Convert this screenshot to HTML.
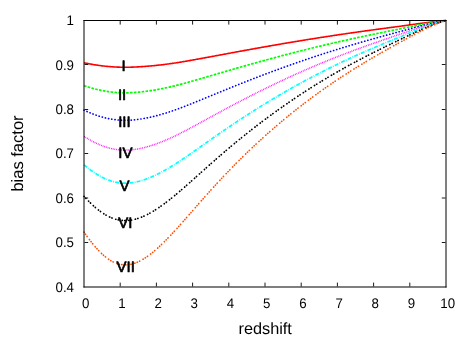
<!DOCTYPE html><html><head><meta charset="utf-8"><style>
html,body{margin:0;padding:0;background:#fff;overflow:hidden}svg{display:block;will-change:transform}text{font-family:"Liberation Sans",sans-serif;fill:#000;text-rendering:geometricPrecision}
</style></head><body>
<svg width="474" height="337" viewBox="0 0 474 337">
<rect width="474" height="337" fill="#fff"/>
<polyline points="84.00,62.81 85.01,63.01 86.01,63.22 87.02,63.41 88.02,63.61 89.03,63.80 90.03,63.98 91.04,64.16 92.04,64.34 93.05,64.51 94.06,64.68 95.06,64.84 96.07,65.00 97.07,65.15 98.08,65.30 99.08,65.44 100.09,65.58 101.09,65.71 102.10,65.84 103.11,65.96 104.11,66.08 105.12,66.19 106.12,66.29 107.13,66.39 108.13,66.48 109.14,66.57 110.14,66.65 111.15,66.73 112.16,66.80 113.16,66.87 114.17,66.93 115.17,66.99 116.18,67.04 117.18,67.08 118.19,67.12 119.19,67.15 120.20,67.18 121.21,67.20 122.21,67.22 123.22,67.23 124.22,67.24 125.23,67.25 126.23,67.24 127.24,67.24 128.24,67.22 129.25,67.21 130.26,67.18 131.26,67.16 132.27,67.13 133.27,67.09 134.28,67.05 135.28,67.01 136.29,66.96 137.29,66.91 138.30,66.85 139.31,66.80 140.31,66.74 141.32,66.67 142.32,66.61 143.33,66.54 144.33,66.47 145.34,66.39 146.34,66.31 147.35,66.23 148.36,66.15 149.36,66.06 150.37,65.98 151.37,65.88 152.38,65.79 153.38,65.69 154.39,65.59 155.39,65.49 156.40,65.39 157.41,65.28 158.41,65.17 159.42,65.06 160.42,64.94 161.43,64.83 162.43,64.71 163.44,64.59 164.44,64.46 165.45,64.33 166.46,64.20 167.46,64.07 168.47,63.94 169.47,63.80 170.48,63.66 171.48,63.52 172.49,63.38 173.49,63.23 174.50,63.08 175.51,62.93 176.51,62.78 177.52,62.62 178.52,62.46 179.53,62.30 180.53,62.14 181.54,61.98 182.54,61.81 183.55,61.64 184.56,61.47 185.56,61.29 186.57,61.12 187.57,60.94 188.58,60.77 189.58,60.59 190.59,60.41 191.59,60.23 192.60,60.05 193.61,59.87 194.61,59.69 195.62,59.51 196.62,59.33 197.63,59.14 198.63,58.96 199.64,58.78 200.64,58.59 201.65,58.41 202.66,58.22 203.66,58.04 204.67,57.85 205.67,57.66 206.68,57.48 207.68,57.29 208.69,57.10 209.69,56.92 210.70,56.73 211.71,56.54 212.71,56.36 213.72,56.17 214.72,55.98 215.73,55.79 216.73,55.61 217.74,55.42 218.74,55.23 219.75,55.04 220.76,54.86 221.76,54.67 222.77,54.48 223.77,54.30 224.78,54.11 225.78,53.92 226.79,53.73 227.79,53.55 228.80,53.36 229.81,53.18 230.81,52.99 231.82,52.80 232.82,52.62 233.83,52.43 234.83,52.25 235.84,52.06 236.84,51.88 237.85,51.69 238.86,51.51 239.86,51.32 240.87,51.14 241.87,50.95 242.88,50.77 243.88,50.59 244.89,50.40 245.89,50.22 246.90,50.04 247.91,49.85 248.91,49.67 249.92,49.49 250.92,49.31 251.93,49.13 252.93,48.95 253.94,48.77 254.94,48.59 255.95,48.41 256.96,48.23 257.96,48.05 258.97,47.87 259.97,47.69 260.98,47.51 261.98,47.33 262.99,47.15 263.99,46.97 265.00,46.80 266.01,46.62 267.01,46.44 268.02,46.27 269.02,46.09 270.03,45.91 271.03,45.74 272.04,45.56 273.04,45.39 274.05,45.21 275.06,45.04 276.06,44.87 277.07,44.69 278.07,44.52 279.08,44.35 280.08,44.17 281.09,44.00 282.09,43.83 283.10,43.66 284.11,43.49 285.11,43.32 286.12,43.14 287.12,42.97 288.13,42.80 289.13,42.63 290.14,42.47 291.14,42.30 292.15,42.13 293.16,41.96 294.16,41.79 295.17,41.62 296.17,41.46 297.18,41.29 298.18,41.13 299.19,40.96 300.19,40.79 301.20,40.63 302.21,40.46 303.21,40.30 304.22,40.14 305.22,39.97 306.23,39.81 307.23,39.65 308.24,39.48 309.24,39.32 310.25,39.16 311.26,39.00 312.26,38.84 313.27,38.68 314.27,38.52 315.28,38.36 316.28,38.20 317.29,38.04 318.29,37.88 319.30,37.72 320.31,37.57 321.31,37.41 322.32,37.25 323.32,37.10 324.33,36.94 325.33,36.79 326.34,36.63 327.34,36.48 328.35,36.32 329.36,36.17 330.36,36.02 331.37,35.86 332.37,35.71 333.38,35.56 334.38,35.41 335.39,35.26 336.39,35.11 337.40,34.96 338.41,34.81 339.41,34.66 340.42,34.51 341.42,34.36 342.43,34.21 343.43,34.06 344.44,33.92 345.44,33.77 346.45,33.62 347.46,33.48 348.46,33.33 349.47,33.19 350.47,33.04 351.48,32.90 352.48,32.75 353.49,32.61 354.49,32.47 355.50,32.32 356.51,32.18 357.51,32.04 358.52,31.90 359.52,31.75 360.53,31.61 361.53,31.47 362.54,31.33 363.54,31.19 364.55,31.05 365.56,30.91 366.56,30.77 367.57,30.63 368.57,30.50 369.58,30.36 370.58,30.22 371.59,30.08 372.59,29.94 373.60,29.81 374.61,29.67 375.61,29.53 376.62,29.39 377.62,29.26 378.63,29.12 379.63,28.99 380.64,28.85 381.64,28.71 382.65,28.58 383.66,28.44 384.66,28.31 385.67,28.17 386.67,28.04 387.68,27.90 388.68,27.77 389.69,27.64 390.69,27.50 391.70,27.37 392.71,27.23 393.71,27.10 394.72,26.97 395.72,26.83 396.73,26.70 397.73,26.57 398.74,26.44 399.74,26.30 400.75,26.17 401.76,26.03 402.76,25.89 403.77,25.74 404.77,25.60 405.78,25.46 406.78,25.31 407.79,25.17 408.79,25.03 409.80,24.89 410.81,24.75 411.81,24.60 412.82,24.46 413.82,24.32 414.83,24.18 415.83,24.05 416.84,23.91 417.84,23.77 418.85,23.63 419.86,23.50 420.86,23.36 421.87,23.23 422.87,23.09 423.88,22.96 424.88,22.83 425.89,22.70 426.89,22.57 427.90,22.44 428.91,22.32 429.91,22.19 430.92,22.07 431.92,21.95 432.93,21.83 433.93,21.71 434.94,21.60 435.94,21.48 436.95,21.37 437.96,21.26 438.96,21.16 439.97,21.05 440.97,20.95 441.98,20.86 442.98,20.76 443.99,20.67 444.99,20.58 446.00,20.50" fill="none" stroke="#ff0000" stroke-width="1.6"/>
<polyline points="84.00,85.73 85.01,86.06 86.01,86.38 87.02,86.69 88.02,87.00 89.03,87.31 90.03,87.60 91.04,87.89 92.04,88.17 93.05,88.45 94.06,88.71 95.06,88.97 96.07,89.22 97.07,89.47 98.08,89.70 99.08,89.93 100.09,90.15 101.09,90.36 102.10,90.56 103.11,90.76 104.11,90.94 105.12,91.12 106.12,91.29 107.13,91.44 108.13,91.59 109.14,91.74 110.14,91.87 111.15,91.99 112.16,92.11 113.16,92.21 114.17,92.31 115.17,92.40 116.18,92.48 117.18,92.55 118.19,92.61 119.19,92.67 120.20,92.71 121.21,92.75 122.21,92.78 123.22,92.80 124.22,92.81 125.23,92.82 126.23,92.81 127.24,92.80 128.24,92.78 129.25,92.75 130.26,92.72 131.26,92.68 132.27,92.63 133.27,92.57 134.28,92.50 135.28,92.43 136.29,92.35 137.29,92.27 138.30,92.18 139.31,92.09 140.31,91.99 141.32,91.88 142.32,91.77 143.33,91.66 144.33,91.54 145.34,91.41 146.34,91.28 147.35,91.14 148.36,91.00 149.36,90.86 150.37,90.71 151.37,90.55 152.38,90.40 153.38,90.23 154.39,90.06 155.39,89.89 156.40,89.72 157.41,89.53 158.41,89.35 159.42,89.16 160.42,88.97 161.43,88.77 162.43,88.57 163.44,88.36 164.44,88.16 165.45,87.94 166.46,87.73 167.46,87.51 168.47,87.29 169.47,87.06 170.48,86.83 171.48,86.60 172.49,86.36 173.49,86.12 174.50,85.88 175.51,85.63 176.51,85.38 177.52,85.13 178.52,84.88 179.53,84.62 180.53,84.36 181.54,84.09 182.54,83.82 183.55,83.55 184.56,83.28 185.56,83.00 186.57,82.73 187.57,82.45 188.58,82.17 189.58,81.89 190.59,81.60 191.59,81.32 192.60,81.04 193.61,80.75 194.61,80.46 195.62,80.18 196.62,79.89 197.63,79.60 198.63,79.31 199.64,79.02 200.64,78.73 201.65,78.44 202.66,78.14 203.66,77.85 204.67,77.56 205.67,77.27 206.68,76.97 207.68,76.68 208.69,76.38 209.69,76.09 210.70,75.80 211.71,75.50 212.71,75.21 213.72,74.91 214.72,74.62 215.73,74.32 216.73,74.03 217.74,73.73 218.74,73.44 219.75,73.15 220.76,72.85 221.76,72.56 222.77,72.26 223.77,71.97 224.78,71.68 225.78,71.39 226.79,71.09 227.79,70.80 228.80,70.51 229.81,70.22 230.81,69.93 231.82,69.63 232.82,69.34 233.83,69.05 234.83,68.76 235.84,68.47 236.84,68.18 237.85,67.90 238.86,67.61 239.86,67.32 240.87,67.03 241.87,66.75 242.88,66.46 243.88,66.17 244.89,65.89 245.89,65.60 246.90,65.32 247.91,65.03 248.91,64.75 249.92,64.47 250.92,64.18 251.93,63.90 252.93,63.62 253.94,63.34 254.94,63.06 255.95,62.78 256.96,62.50 257.96,62.22 258.97,61.94 259.97,61.67 260.98,61.39 261.98,61.11 262.99,60.83 263.99,60.56 265.00,60.28 266.01,60.01 267.01,59.74 268.02,59.46 269.02,59.19 270.03,58.92 271.03,58.65 272.04,58.37 273.04,58.10 274.05,57.83 275.06,57.56 276.06,57.29 277.07,57.03 278.07,56.76 279.08,56.49 280.08,56.22 281.09,55.96 282.09,55.69 283.10,55.43 284.11,55.16 285.11,54.90 286.12,54.64 287.12,54.37 288.13,54.11 289.13,53.85 290.14,53.59 291.14,53.33 292.15,53.07 293.16,52.81 294.16,52.55 295.17,52.30 296.17,52.04 297.18,51.78 298.18,51.53 299.19,51.27 300.19,51.02 301.20,50.76 302.21,50.51 303.21,50.26 304.22,50.01 305.22,49.76 306.23,49.51 307.23,49.26 308.24,49.01 309.24,48.76 310.25,48.51 311.26,48.26 312.26,48.02 313.27,47.77 314.27,47.53 315.28,47.28 316.28,47.04 317.29,46.79 318.29,46.55 319.30,46.31 320.31,46.07 321.31,45.83 322.32,45.59 323.32,45.35 324.33,45.11 325.33,44.87 326.34,44.64 327.34,44.40 328.35,44.17 329.36,43.93 330.36,43.70 331.37,43.46 332.37,43.23 333.38,43.00 334.38,42.77 335.39,42.54 336.39,42.31 337.40,42.08 338.41,41.85 339.41,41.62 340.42,41.40 341.42,41.17 342.43,40.95 343.43,40.72 344.44,40.50 345.44,40.27 346.45,40.05 347.46,39.83 348.46,39.61 349.47,39.38 350.47,39.16 351.48,38.94 352.48,38.73 353.49,38.51 354.49,38.29 355.50,38.07 356.51,37.85 357.51,37.64 358.52,37.42 359.52,37.21 360.53,36.99 361.53,36.78 362.54,36.57 363.54,36.35 364.55,36.14 365.56,35.93 366.56,35.72 367.57,35.51 368.57,35.30 369.58,35.09 370.58,34.88 371.59,34.67 372.59,34.46 373.60,34.25 374.61,34.04 375.61,33.83 376.62,33.63 377.62,33.42 378.63,33.21 379.63,33.01 380.64,32.80 381.64,32.60 382.65,32.39 383.66,32.19 384.66,31.98 385.67,31.78 386.67,31.57 387.68,31.37 388.68,31.17 389.69,30.97 390.69,30.76 391.70,30.56 392.71,30.36 393.71,30.16 394.72,29.96 395.72,29.75 396.73,29.55 397.73,29.35 398.74,29.15 399.74,28.95 400.75,28.75 401.76,28.55 402.76,28.33 403.77,28.12 404.77,27.91 405.78,27.70 406.78,27.50 407.79,27.29 408.79,27.08 409.80,26.87 410.81,26.67 411.81,26.46 412.82,26.25 413.82,26.05 414.83,25.85 415.83,25.64 416.84,25.44 417.84,25.24 418.85,25.04 419.86,24.84 420.86,24.65 421.87,24.45 422.87,24.26 423.88,24.06 424.88,23.87 425.89,23.68 426.89,23.49 427.90,23.31 428.91,23.13 429.91,22.94 430.92,22.77 431.92,22.59 432.93,22.42 433.93,22.25 434.94,22.08 435.94,21.92 436.95,21.75 437.96,21.60 438.96,21.44 439.97,21.30 440.97,21.15 441.98,21.01 442.98,20.87 443.99,20.74 444.99,20.62 446.00,20.50" fill="none" stroke="#00ff00" stroke-width="1.7" stroke-dasharray="2.6 1.3"/>
<polyline points="84.00,110.13 85.01,110.60 86.01,111.06 87.02,111.51 88.02,111.95 89.03,112.38 90.03,112.80 91.04,113.21 92.04,113.62 93.05,114.01 94.06,114.39 95.06,114.76 96.07,115.12 97.07,115.47 98.08,115.81 99.08,116.14 100.09,116.45 101.09,116.75 102.10,117.04 103.11,117.32 104.11,117.59 105.12,117.84 106.12,118.08 107.13,118.31 108.13,118.52 109.14,118.73 110.14,118.92 111.15,119.10 112.16,119.26 113.16,119.41 114.17,119.55 115.17,119.68 116.18,119.80 117.18,119.90 118.19,119.99 119.19,120.07 120.20,120.13 121.21,120.19 122.21,120.23 123.22,120.26 124.22,120.27 125.23,120.28 126.23,120.28 127.24,120.26 128.24,120.23 129.25,120.19 130.26,120.14 131.26,120.08 132.27,120.01 133.27,119.92 134.28,119.83 135.28,119.73 136.29,119.62 137.29,119.50 138.30,119.37 139.31,119.23 140.31,119.08 141.32,118.93 142.32,118.77 143.33,118.60 144.33,118.42 145.34,118.23 146.34,118.04 147.35,117.84 148.36,117.63 149.36,117.42 150.37,117.20 151.37,116.97 152.38,116.74 153.38,116.49 154.39,116.25 155.39,115.99 156.40,115.73 157.41,115.47 158.41,115.20 159.42,114.92 160.42,114.63 161.43,114.35 162.43,114.05 163.44,113.75 164.44,113.45 165.45,113.14 166.46,112.82 167.46,112.50 168.47,112.18 169.47,111.85 170.48,111.51 171.48,111.18 172.49,110.83 173.49,110.49 174.50,110.14 175.51,109.78 176.51,109.42 177.52,109.06 178.52,108.69 179.53,108.32 180.53,107.95 181.54,107.57 182.54,107.19 183.55,106.80 184.56,106.41 185.56,106.02 186.57,105.63 187.57,105.23 188.58,104.84 189.58,104.44 190.59,104.04 191.59,103.64 192.60,103.23 193.61,102.83 194.61,102.42 195.62,102.02 196.62,101.61 197.63,101.20 198.63,100.79 199.64,100.38 200.64,99.97 201.65,99.56 202.66,99.15 203.66,98.74 204.67,98.32 205.67,97.91 206.68,97.50 207.68,97.09 208.69,96.67 209.69,96.26 210.70,95.84 211.71,95.43 212.71,95.02 213.72,94.60 214.72,94.19 215.73,93.78 216.73,93.36 217.74,92.95 218.74,92.54 219.75,92.13 220.76,91.71 221.76,91.30 222.77,90.89 223.77,90.48 224.78,90.07 225.78,89.66 226.79,89.25 227.79,88.84 228.80,88.43 229.81,88.03 230.81,87.62 231.82,87.21 232.82,86.81 233.83,86.40 234.83,86.00 235.84,85.60 236.84,85.19 237.85,84.79 238.86,84.39 239.86,83.99 240.87,83.59 241.87,83.19 242.88,82.79 243.88,82.39 244.89,82.00 245.89,81.60 246.90,81.21 247.91,80.81 248.91,80.42 249.92,80.03 250.92,79.63 251.93,79.24 252.93,78.85 253.94,78.46 254.94,78.07 255.95,77.69 256.96,77.30 257.96,76.91 258.97,76.53 259.97,76.14 260.98,75.76 261.98,75.38 262.99,75.00 263.99,74.62 265.00,74.24 266.01,73.86 267.01,73.48 268.02,73.10 269.02,72.73 270.03,72.35 271.03,71.98 272.04,71.60 273.04,71.23 274.05,70.86 275.06,70.49 276.06,70.11 277.07,69.75 278.07,69.38 279.08,69.01 280.08,68.64 281.09,68.28 282.09,67.91 283.10,67.55 284.11,67.19 285.11,66.82 286.12,66.46 287.12,66.10 288.13,65.74 289.13,65.38 290.14,65.03 291.14,64.67 292.15,64.31 293.16,63.96 294.16,63.61 295.17,63.25 296.17,62.90 297.18,62.55 298.18,62.20 299.19,61.85 300.19,61.50 301.20,61.15 302.21,60.81 303.21,60.46 304.22,60.12 305.22,59.78 306.23,59.43 307.23,59.09 308.24,58.75 309.24,58.41 310.25,58.07 311.26,57.74 312.26,57.40 313.27,57.07 314.27,56.73 315.28,56.40 316.28,56.07 317.29,55.74 318.29,55.40 319.30,55.08 320.31,54.75 321.31,54.42 322.32,54.09 323.32,53.77 324.33,53.45 325.33,53.12 326.34,52.80 327.34,52.48 328.35,52.16 329.36,51.84 330.36,51.52 331.37,51.21 332.37,50.89 333.38,50.58 334.38,50.26 335.39,49.95 336.39,49.64 337.40,49.33 338.41,49.02 339.41,48.71 340.42,48.40 341.42,48.09 342.43,47.79 343.43,47.48 344.44,47.18 345.44,46.88 346.45,46.57 347.46,46.27 348.46,45.97 349.47,45.67 350.47,45.38 351.48,45.08 352.48,44.78 353.49,44.49 354.49,44.19 355.50,43.90 356.51,43.60 357.51,43.31 358.52,43.02 359.52,42.73 360.53,42.44 361.53,42.15 362.54,41.86 363.54,41.58 364.55,41.29 365.56,41.00 366.56,40.72 367.57,40.43 368.57,40.15 369.58,39.87 370.58,39.58 371.59,39.30 372.59,39.02 373.60,38.74 374.61,38.46 375.61,38.18 376.62,37.90 377.62,37.62 378.63,37.35 379.63,37.07 380.64,36.79 381.64,36.52 382.65,36.24 383.66,35.96 384.66,35.69 385.67,35.41 386.67,35.14 387.68,34.87 388.68,34.59 389.69,34.32 390.69,34.05 391.70,33.78 392.71,33.51 393.71,33.23 394.72,32.96 395.72,32.69 396.73,32.43 397.73,32.16 398.74,31.89 399.74,31.62 400.75,31.35 401.76,31.08 402.76,30.80 403.77,30.52 404.77,30.24 405.78,29.97 406.78,29.69 407.79,29.41 408.79,29.14 409.80,28.87 410.81,28.59 411.81,28.32 412.82,28.05 413.82,27.78 414.83,27.51 415.83,27.25 416.84,26.98 417.84,26.72 418.85,26.45 419.86,26.19 420.86,25.93 421.87,25.67 422.87,25.42 423.88,25.17 424.88,24.91 425.89,24.67 426.89,24.42 427.90,24.18 428.91,23.93 429.91,23.70 430.92,23.46 431.92,23.23 432.93,23.00 433.93,22.78 434.94,22.56 435.94,22.35 436.95,22.14 437.96,21.93 438.96,21.73 439.97,21.54 440.97,21.35 441.98,21.16 442.98,20.99 443.99,20.82 444.99,20.66 446.00,20.50" fill="none" stroke="#0000ff" stroke-width="1.65" stroke-dasharray="0.2 3.05" stroke-linecap="round"/>
<polyline points="84.00,136.34 85.01,136.97 86.01,137.59 87.02,138.20 88.02,138.80 89.03,139.38 90.03,139.95 91.04,140.51 92.04,141.06 93.05,141.59 94.06,142.11 95.06,142.62 96.07,143.10 97.07,143.58 98.08,144.04 99.08,144.48 100.09,144.91 101.09,145.32 102.10,145.72 103.11,146.09 104.11,146.46 105.12,146.80 106.12,147.13 107.13,147.44 108.13,147.74 109.14,148.01 110.14,148.27 111.15,148.52 112.16,148.74 113.16,148.95 114.17,149.14 115.17,149.32 116.18,149.47 117.18,149.61 118.19,149.74 119.19,149.84 120.20,149.93 121.21,150.01 122.21,150.06 123.22,150.10 124.22,150.13 125.23,150.14 126.23,150.13 127.24,150.11 128.24,150.07 129.25,150.01 130.26,149.94 131.26,149.86 132.27,149.76 133.27,149.65 134.28,149.52 135.28,149.38 136.29,149.23 137.29,149.06 138.30,148.88 139.31,148.69 140.31,148.49 141.32,148.28 142.32,148.05 143.33,147.82 144.33,147.57 145.34,147.32 146.34,147.05 147.35,146.77 148.36,146.49 149.36,146.19 150.37,145.88 151.37,145.57 152.38,145.24 153.38,144.91 154.39,144.57 155.39,144.21 156.40,143.85 157.41,143.49 158.41,143.11 159.42,142.73 160.42,142.34 161.43,141.94 162.43,141.53 163.44,141.12 164.44,140.70 165.45,140.28 166.46,139.85 167.46,139.41 168.47,138.96 169.47,138.51 170.48,138.06 171.48,137.60 172.49,137.13 173.49,136.66 174.50,136.18 175.51,135.70 176.51,135.21 177.52,134.72 178.52,134.22 179.53,133.72 180.53,133.21 181.54,132.70 182.54,132.19 183.55,131.67 184.56,131.15 185.56,130.62 186.57,130.10 187.57,129.57 188.58,129.03 189.58,128.50 190.59,127.96 191.59,127.43 192.60,126.89 193.61,126.35 194.61,125.80 195.62,125.26 196.62,124.72 197.63,124.17 198.63,123.63 199.64,123.08 200.64,122.53 201.65,121.98 202.66,121.44 203.66,120.89 204.67,120.34 205.67,119.79 206.68,119.24 207.68,118.69 208.69,118.14 209.69,117.59 210.70,117.05 211.71,116.50 212.71,115.95 213.72,115.40 214.72,114.85 215.73,114.31 216.73,113.76 217.74,113.21 218.74,112.67 219.75,112.12 220.76,111.58 221.76,111.04 222.77,110.49 223.77,109.95 224.78,109.41 225.78,108.87 226.79,108.33 227.79,107.80 228.80,107.26 229.81,106.72 230.81,106.19 231.82,105.65 232.82,105.12 233.83,104.59 234.83,104.06 235.84,103.53 236.84,103.00 237.85,102.47 238.86,101.95 239.86,101.42 240.87,100.90 241.87,100.38 242.88,99.85 243.88,99.33 244.89,98.82 245.89,98.30 246.90,97.78 247.91,97.27 248.91,96.75 249.92,96.24 250.92,95.73 251.93,95.22 252.93,94.71 253.94,94.20 254.94,93.70 255.95,93.19 256.96,92.69 257.96,92.19 258.97,91.68 259.97,91.19 260.98,90.69 261.98,90.19 262.99,89.69 263.99,89.20 265.00,88.71 266.01,88.21 267.01,87.72 268.02,87.23 269.02,86.75 270.03,86.26 271.03,85.77 272.04,85.29 273.04,84.81 274.05,84.32 275.06,83.84 276.06,83.37 277.07,82.89 278.07,82.41 279.08,81.94 280.08,81.46 281.09,80.99 282.09,80.52 283.10,80.05 284.11,79.58 285.11,79.11 286.12,78.65 287.12,78.18 288.13,77.72 289.13,77.26 290.14,76.80 291.14,76.34 292.15,75.88 293.16,75.42 294.16,74.97 295.17,74.51 296.17,74.06 297.18,73.61 298.18,73.16 299.19,72.71 300.19,72.27 301.20,71.82 302.21,71.38 303.21,70.93 304.22,70.49 305.22,70.05 306.23,69.61 307.23,69.17 308.24,68.74 309.24,68.30 310.25,67.87 311.26,67.44 312.26,67.01 313.27,66.58 314.27,66.15 315.28,65.72 316.28,65.30 317.29,64.88 318.29,64.45 319.30,64.03 320.31,63.61 321.31,63.20 322.32,62.78 323.32,62.36 324.33,61.95 325.33,61.54 326.34,61.13 327.34,60.72 328.35,60.31 329.36,59.90 330.36,59.50 331.37,59.09 332.37,58.69 333.38,58.29 334.38,57.89 335.39,57.49 336.39,57.10 337.40,56.70 338.41,56.31 339.41,55.91 340.42,55.52 341.42,55.13 342.43,54.74 343.43,54.36 344.44,53.97 345.44,53.59 346.45,53.20 347.46,52.82 348.46,52.44 349.47,52.06 350.47,51.68 351.48,51.30 352.48,50.93 353.49,50.55 354.49,50.18 355.50,49.81 356.51,49.43 357.51,49.06 358.52,48.70 359.52,48.33 360.53,47.96 361.53,47.59 362.54,47.23 363.54,46.87 364.55,46.50 365.56,46.14 366.56,45.78 367.57,45.42 368.57,45.06 369.58,44.70 370.58,44.35 371.59,43.99 372.59,43.63 373.60,43.28 374.61,42.93 375.61,42.57 376.62,42.22 377.62,41.87 378.63,41.52 379.63,41.17 380.64,40.82 381.64,40.47 382.65,40.12 383.66,39.77 384.66,39.43 385.67,39.08 386.67,38.74 387.68,38.39 388.68,38.05 389.69,37.70 390.69,37.36 391.70,37.02 392.71,36.68 393.71,36.34 394.72,35.99 395.72,35.66 396.73,35.32 397.73,34.98 398.74,34.64 399.74,34.30 400.75,33.97 401.76,33.62 402.76,33.27 403.77,32.93 404.77,32.58 405.78,32.24 406.78,31.89 407.79,31.55 408.79,31.21 409.80,30.87 410.81,30.53 411.81,30.19 412.82,29.86 413.82,29.52 414.83,29.19 415.83,28.85 416.84,28.52 417.84,28.20 418.85,27.87 419.86,27.54 420.86,27.22 421.87,26.90 422.87,26.59 423.88,26.27 424.88,25.96 425.89,25.65 426.89,25.35 427.90,25.04 428.91,24.74 429.91,24.45 430.92,24.16 431.92,23.87 432.93,23.59 433.93,23.32 434.94,23.04 435.94,22.78 436.95,22.52 437.96,22.27 438.96,22.02 439.97,21.78 440.97,21.54 441.98,21.32 442.98,21.10 443.99,20.89 444.99,20.69 446.00,20.50" fill="none" stroke="#ff00ff" stroke-width="1.5" stroke-dasharray="0.8 0.95"/>
<polyline points="84.00,164.84 85.01,165.66 86.01,166.48 87.02,167.28 88.02,168.07 89.03,168.84 90.03,169.59 91.04,170.33 92.04,171.06 93.05,171.76 94.06,172.45 95.06,173.12 96.07,173.77 97.07,174.39 98.08,175.00 99.08,175.59 100.09,176.16 101.09,176.71 102.10,177.24 103.11,177.74 104.11,178.22 105.12,178.68 106.12,179.12 107.13,179.54 108.13,179.93 109.14,180.30 110.14,180.65 111.15,180.97 112.16,181.27 113.16,181.55 114.17,181.81 115.17,182.04 116.18,182.25 117.18,182.44 118.19,182.61 119.19,182.75 120.20,182.87 121.21,182.97 122.21,183.04 123.22,183.10 124.22,183.13 125.23,183.14 126.23,183.13 127.24,183.10 128.24,183.05 129.25,182.98 130.26,182.88 131.26,182.77 132.27,182.64 133.27,182.49 134.28,182.32 135.28,182.13 136.29,181.92 137.29,181.70 138.30,181.46 139.31,181.21 140.31,180.93 141.32,180.65 142.32,180.34 143.33,180.03 144.33,179.70 145.34,179.35 146.34,178.99 147.35,178.62 148.36,178.23 149.36,177.83 150.37,177.42 151.37,176.99 152.38,176.55 153.38,176.10 154.39,175.64 155.39,175.17 156.40,174.69 157.41,174.20 158.41,173.69 159.42,173.18 160.42,172.66 161.43,172.12 162.43,171.58 163.44,171.03 164.44,170.47 165.45,169.91 166.46,169.33 167.46,168.75 168.47,168.16 169.47,167.56 170.48,166.95 171.48,166.34 172.49,165.72 173.49,165.10 174.50,164.47 175.51,163.83 176.51,163.19 177.52,162.54 178.52,161.89 179.53,161.23 180.53,160.57 181.54,159.90 182.54,159.23 183.55,158.55 184.56,157.87 185.56,157.18 186.57,156.49 187.57,155.80 188.58,155.11 189.58,154.42 190.59,153.72 191.59,153.02 192.60,152.32 193.61,151.62 194.61,150.92 195.62,150.22 196.62,149.51 197.63,148.81 198.63,148.10 199.64,147.39 200.64,146.69 201.65,145.98 202.66,145.27 203.66,144.57 204.67,143.86 205.67,143.15 206.68,142.45 207.68,141.74 208.69,141.03 209.69,140.33 210.70,139.62 211.71,138.92 212.71,138.22 213.72,137.52 214.72,136.82 215.73,136.12 216.73,135.42 217.74,134.72 218.74,134.02 219.75,133.33 220.76,132.63 221.76,131.94 222.77,131.25 223.77,130.56 224.78,129.87 225.78,129.18 226.79,128.50 227.79,127.81 228.80,127.13 229.81,126.45 230.81,125.77 231.82,125.09 232.82,124.42 233.83,123.74 234.83,123.07 235.84,122.40 236.84,121.73 237.85,121.06 238.86,120.40 239.86,119.73 240.87,119.07 241.87,118.41 242.88,117.76 243.88,117.10 244.89,116.44 245.89,115.79 246.90,115.14 247.91,114.49 248.91,113.85 249.92,113.20 250.92,112.56 251.93,111.92 252.93,111.28 253.94,110.64 254.94,110.01 255.95,109.37 256.96,108.74 257.96,108.11 258.97,107.48 259.97,106.86 260.98,106.23 261.98,105.61 262.99,104.99 263.99,104.37 265.00,103.75 266.01,103.14 267.01,102.53 268.02,101.92 269.02,101.31 270.03,100.70 271.03,100.09 272.04,99.49 273.04,98.89 274.05,98.29 275.06,97.69 276.06,97.09 277.07,96.50 278.07,95.91 279.08,95.31 280.08,94.73 281.09,94.14 282.09,93.55 283.10,92.97 284.11,92.39 285.11,91.81 286.12,91.23 287.12,90.65 288.13,90.08 289.13,89.51 290.14,88.94 291.14,88.37 292.15,87.80 293.16,87.24 294.16,86.67 295.17,86.11 296.17,85.55 297.18,84.99 298.18,84.44 299.19,83.88 300.19,83.33 301.20,82.78 302.21,82.23 303.21,81.69 304.22,81.14 305.22,80.60 306.23,80.06 307.23,79.52 308.24,78.98 309.24,78.45 310.25,77.91 311.26,77.38 312.26,76.85 313.27,76.32 314.27,75.80 315.28,75.27 316.28,74.75 317.29,74.23 318.29,73.71 319.30,73.20 320.31,72.68 321.31,72.17 322.32,71.66 323.32,71.15 324.33,70.64 325.33,70.13 326.34,69.63 327.34,69.13 328.35,68.63 329.36,68.13 330.36,67.63 331.37,67.14 332.37,66.65 333.38,66.16 334.38,65.67 335.39,65.18 336.39,64.70 337.40,64.21 338.41,63.73 339.41,63.25 340.42,62.77 341.42,62.30 342.43,61.82 343.43,61.35 344.44,60.88 345.44,60.41 346.45,59.94 347.46,59.47 348.46,59.01 349.47,58.54 350.47,58.08 351.48,57.62 352.48,57.17 353.49,56.71 354.49,56.25 355.50,55.80 356.51,55.35 357.51,54.90 358.52,54.45 359.52,54.00 360.53,53.55 361.53,53.11 362.54,52.67 363.54,52.22 364.55,51.78 365.56,51.34 366.56,50.90 367.57,50.47 368.57,50.03 369.58,49.60 370.58,49.16 371.59,48.73 372.59,48.30 373.60,47.87 374.61,47.44 375.61,47.01 376.62,46.58 377.62,46.16 378.63,45.73 379.63,45.31 380.64,44.88 381.64,44.46 382.65,44.04 383.66,43.62 384.66,43.20 385.67,42.78 386.67,42.36 387.68,41.94 388.68,41.53 389.69,41.11 390.69,40.70 391.70,40.28 392.71,39.87 393.71,39.46 394.72,39.05 395.72,38.64 396.73,38.23 397.73,37.82 398.74,37.41 399.74,37.00 400.75,36.60 401.76,36.18 402.76,35.77 403.77,35.35 404.77,34.94 405.78,34.52 406.78,34.11 407.79,33.70 408.79,33.29 409.80,32.88 410.81,32.48 411.81,32.07 412.82,31.67 413.82,31.27 414.83,30.87 415.83,30.47 416.84,30.07 417.84,29.68 418.85,29.29 419.86,28.90 420.86,28.52 421.87,28.13 422.87,27.76 423.88,27.38 424.88,27.01 425.89,26.64 426.89,26.27 427.90,25.91 428.91,25.56 429.91,25.20 430.92,24.86 431.92,24.52 432.93,24.18 433.93,23.85 434.94,23.53 435.94,23.21 436.95,22.90 437.96,22.60 438.96,22.30 439.97,22.02 440.97,21.74 441.98,21.47 442.98,21.21 443.99,20.96 444.99,20.73 446.00,20.50" fill="none" stroke="#00ffff" stroke-width="1.7" stroke-dasharray="3.9 1.25 0.8 1.25"/>
<polyline points="84.00,196.34 85.01,197.42 86.01,198.49 87.02,199.53 88.02,200.56 89.03,201.58 90.03,202.57 91.04,203.54 92.04,204.49 93.05,205.42 94.06,206.33 95.06,207.21 96.07,208.07 97.07,208.90 98.08,209.71 99.08,210.49 100.09,211.24 101.09,211.97 102.10,212.67 103.11,213.34 104.11,213.98 105.12,214.60 106.12,215.18 107.13,215.74 108.13,216.26 109.14,216.76 110.14,217.23 111.15,217.66 112.16,218.07 113.16,218.44 114.17,218.78 115.17,219.10 116.18,219.38 117.18,219.63 118.19,219.85 119.19,220.05 120.20,220.21 121.21,220.34 122.21,220.44 123.22,220.52 124.22,220.56 125.23,220.57 126.23,220.56 127.24,220.52 128.24,220.45 129.25,220.35 130.26,220.23 131.26,220.08 132.27,219.90 133.27,219.70 134.28,219.47 135.28,219.21 136.29,218.94 137.29,218.64 138.30,218.31 139.31,217.97 140.31,217.60 141.32,217.22 142.32,216.81 143.33,216.38 144.33,215.93 145.34,215.47 146.34,214.98 147.35,214.48 148.36,213.96 149.36,213.42 150.37,212.87 151.37,212.30 152.38,211.71 153.38,211.11 154.39,210.49 155.39,209.86 156.40,209.22 157.41,208.56 158.41,207.89 159.42,207.21 160.42,206.51 161.43,205.80 162.43,205.08 163.44,204.35 164.44,203.61 165.45,202.86 166.46,202.10 167.46,201.33 168.47,200.56 169.47,199.77 170.48,198.97 171.48,198.17 172.49,197.36 173.49,196.54 174.50,195.72 175.51,194.88 176.51,194.05 177.52,193.20 178.52,192.35 179.53,191.50 180.53,190.64 181.54,189.77 182.54,188.90 183.55,188.02 184.56,187.14 185.56,186.26 186.57,185.37 187.57,184.49 188.58,183.60 189.58,182.70 190.59,181.81 191.59,180.92 192.60,180.02 193.61,179.12 194.61,178.22 195.62,177.33 196.62,176.43 197.63,175.53 198.63,174.63 199.64,173.73 200.64,172.83 201.65,171.93 202.66,171.04 203.66,170.14 204.67,169.24 205.67,168.35 206.68,167.46 207.68,166.56 208.69,165.67 209.69,164.78 210.70,163.89 211.71,163.01 212.71,162.12 213.72,161.24 214.72,160.36 215.73,159.48 216.73,158.60 217.74,157.72 218.74,156.85 219.75,155.98 220.76,155.11 221.76,154.24 222.77,153.38 223.77,152.52 224.78,151.66 225.78,150.80 226.79,149.95 227.79,149.09 228.80,148.24 229.81,147.40 230.81,146.55 231.82,145.71 232.82,144.87 233.83,144.04 234.83,143.20 235.84,142.37 236.84,141.54 237.85,140.72 238.86,139.89 239.86,139.07 240.87,138.26 241.87,137.44 242.88,136.63 243.88,135.82 244.89,135.01 245.89,134.21 246.90,133.41 247.91,132.61 248.91,131.82 249.92,131.02 250.92,130.23 251.93,129.45 252.93,128.66 253.94,127.88 254.94,127.10 255.95,126.32 256.96,125.55 257.96,124.78 258.97,124.01 259.97,123.25 260.98,122.48 261.98,121.72 262.99,120.96 263.99,120.21 265.00,119.46 266.01,118.71 267.01,117.96 268.02,117.22 269.02,116.47 270.03,115.73 271.03,115.00 272.04,114.26 273.04,113.53 274.05,112.80 275.06,112.08 276.06,111.35 277.07,110.63 278.07,109.91 279.08,109.20 280.08,108.48 281.09,107.77 282.09,107.06 283.10,106.36 284.11,105.65 285.11,104.95 286.12,104.25 287.12,103.56 288.13,102.86 289.13,102.17 290.14,101.48 291.14,100.80 292.15,100.11 293.16,99.43 294.16,98.75 295.17,98.07 296.17,97.40 297.18,96.73 298.18,96.06 299.19,95.39 300.19,94.73 301.20,94.07 302.21,93.41 303.21,92.75 304.22,92.10 305.22,91.45 306.23,90.80 307.23,90.15 308.24,89.50 309.24,88.86 310.25,88.22 311.26,87.59 312.26,86.95 313.27,86.32 314.27,85.69 315.28,85.06 316.28,84.44 317.29,83.81 318.29,83.19 319.30,82.58 320.31,81.96 321.31,81.35 322.32,80.74 323.32,80.13 324.33,79.52 325.33,78.92 326.34,78.32 327.34,77.72 328.35,77.13 329.36,76.53 330.36,75.94 331.37,75.35 332.37,74.76 333.38,74.18 334.38,73.60 335.39,73.02 336.39,72.44 337.40,71.87 338.41,71.29 339.41,70.72 340.42,70.15 341.42,69.59 342.43,69.02 343.43,68.46 344.44,67.90 345.44,67.34 346.45,66.79 347.46,66.24 348.46,65.68 349.47,65.14 350.47,64.59 351.48,64.04 352.48,63.50 353.49,62.96 354.49,62.42 355.50,61.88 356.51,61.35 357.51,60.81 358.52,60.28 359.52,59.75 360.53,59.22 361.53,58.70 362.54,58.17 363.54,57.65 364.55,57.13 365.56,56.61 366.56,56.09 367.57,55.57 368.57,55.06 369.58,54.55 370.58,54.03 371.59,53.52 372.59,53.01 373.60,52.51 374.61,52.00 375.61,51.49 376.62,50.99 377.62,50.49 378.63,49.99 379.63,49.49 380.64,48.99 381.64,48.49 382.65,47.99 383.66,47.50 384.66,47.00 385.67,46.51 386.67,46.02 387.68,45.53 388.68,45.04 389.69,44.55 390.69,44.06 391.70,43.57 392.71,43.09 393.71,42.60 394.72,42.12 395.72,41.64 396.73,41.16 397.73,40.68 398.74,40.20 399.74,39.72 400.75,39.24 401.76,38.76 402.76,38.27 403.77,37.79 404.77,37.30 405.78,36.82 406.78,36.34 407.79,35.86 408.79,35.38 409.80,34.90 410.81,34.43 411.81,33.96 412.82,33.49 413.82,33.02 414.83,32.55 415.83,32.09 416.84,31.63 417.84,31.17 418.85,30.72 419.86,30.26 420.86,29.82 421.87,29.37 422.87,28.93 423.88,28.49 424.88,28.06 425.89,27.63 426.89,27.20 427.90,26.78 428.91,26.37 429.91,25.96 430.92,25.56 431.92,25.16 432.93,24.77 433.93,24.39 434.94,24.01 435.94,23.64 436.95,23.28 437.96,22.93 438.96,22.59 439.97,22.26 440.97,21.94 441.98,21.63 442.98,21.33 443.99,21.04 444.99,20.76 446.00,20.50" fill="none" stroke="#000000" stroke-width="1.7" stroke-dasharray="0.2 2.4 0.2 3.8" stroke-linecap="round"/>
<polyline points="84.00,232.08 85.01,233.51 86.01,234.91 87.02,236.30 88.02,237.67 89.03,239.02 90.03,240.34 91.04,241.64 92.04,242.91 93.05,244.16 94.06,245.38 95.06,246.57 96.07,247.73 97.07,248.85 98.08,249.95 99.08,251.01 100.09,252.04 101.09,253.03 102.10,253.99 103.11,254.91 104.11,255.79 105.12,256.63 106.12,257.43 107.13,258.20 108.13,258.92 109.14,259.61 110.14,260.25 111.15,260.85 112.16,261.41 113.16,261.93 114.17,262.41 115.17,262.85 116.18,263.24 117.18,263.59 118.19,263.90 119.19,264.17 120.20,264.40 121.21,264.58 122.21,264.72 123.22,264.82 124.22,264.89 125.23,264.91 126.23,264.89 127.24,264.83 128.24,264.73 129.25,264.60 130.26,264.42 131.26,264.21 132.27,263.96 133.27,263.68 134.28,263.36 135.28,263.01 136.29,262.62 137.29,262.20 138.30,261.76 139.31,261.28 140.31,260.77 141.32,260.23 142.32,259.66 143.33,259.07 144.33,258.45 145.34,257.80 146.34,257.13 147.35,256.44 148.36,255.72 149.36,254.98 150.37,254.21 151.37,253.43 152.38,252.62 153.38,251.80 154.39,250.95 155.39,250.09 156.40,249.21 157.41,248.32 158.41,247.40 159.42,246.47 160.42,245.53 161.43,244.57 162.43,243.60 163.44,242.62 164.44,241.62 165.45,240.61 166.46,239.59 167.46,238.56 168.47,237.52 169.47,236.47 170.48,235.42 171.48,234.35 172.49,233.27 173.49,232.19 174.50,231.10 175.51,230.00 176.51,228.90 177.52,227.79 178.52,226.68 179.53,225.56 180.53,224.43 181.54,223.30 182.54,222.17 183.55,221.03 184.56,219.89 185.56,218.75 186.57,217.60 187.57,216.46 188.58,215.31 189.58,214.16 190.59,213.01 191.59,211.86 192.60,210.72 193.61,209.57 194.61,208.42 195.62,207.27 196.62,206.13 197.63,204.98 198.63,203.84 199.64,202.70 200.64,201.56 201.65,200.42 202.66,199.29 203.66,198.15 204.67,197.02 205.67,195.89 206.68,194.77 207.68,193.65 208.69,192.53 209.69,191.41 210.70,190.30 211.71,189.19 212.71,188.08 213.72,186.97 214.72,185.87 215.73,184.78 216.73,183.69 217.74,182.60 218.74,181.51 219.75,180.43 220.76,179.35 221.76,178.28 222.77,177.21 223.77,176.14 224.78,175.08 225.78,174.02 226.79,172.97 227.79,171.92 228.80,170.87 229.81,169.83 230.81,168.79 231.82,167.76 232.82,166.73 233.83,165.70 234.83,164.68 235.84,163.66 236.84,162.65 237.85,161.64 238.86,160.64 239.86,159.63 240.87,158.64 241.87,157.65 242.88,156.66 243.88,155.67 244.89,154.69 245.89,153.72 246.90,152.74 247.91,151.77 248.91,150.81 249.92,149.85 250.92,148.89 251.93,147.94 252.93,146.99 253.94,146.05 254.94,145.11 255.95,144.17 256.96,143.24 257.96,142.31 258.97,141.38 259.97,140.46 260.98,139.54 261.98,138.63 262.99,137.72 263.99,136.81 265.00,135.91 266.01,135.01 267.01,134.11 268.02,133.22 269.02,132.33 270.03,131.45 271.03,130.57 272.04,129.69 273.04,128.81 274.05,127.94 275.06,127.08 276.06,126.21 277.07,125.35 278.07,124.49 279.08,123.64 280.08,122.79 281.09,121.94 282.09,121.10 283.10,120.26 284.11,119.42 285.11,118.59 286.12,117.76 287.12,116.94 288.13,116.11 289.13,115.29 290.14,114.48 291.14,113.66 292.15,112.85 293.16,112.05 294.16,111.24 295.17,110.44 296.17,109.64 297.18,108.85 298.18,108.06 299.19,107.27 300.19,106.49 301.20,105.71 302.21,104.93 303.21,104.16 304.22,103.38 305.22,102.62 306.23,101.85 307.23,101.09 308.24,100.33 309.24,99.58 310.25,98.82 311.26,98.07 312.26,97.33 313.27,96.59 314.27,95.85 315.28,95.11 316.28,94.38 317.29,93.65 318.29,92.92 319.30,92.19 320.31,91.47 321.31,90.75 322.32,90.04 323.32,89.33 324.33,88.62 325.33,87.91 326.34,87.21 327.34,86.51 328.35,85.81 329.36,85.12 330.36,84.43 331.37,83.74 332.37,83.05 333.38,82.37 334.38,81.69 335.39,81.02 336.39,80.34 337.40,79.67 338.41,79.00 339.41,78.34 340.42,77.68 341.42,77.02 342.43,76.36 343.43,75.71 344.44,75.05 345.44,74.41 346.45,73.76 347.46,73.12 348.46,72.48 349.47,71.84 350.47,71.20 351.48,70.57 352.48,69.94 353.49,69.31 354.49,68.68 355.50,68.06 356.51,67.44 357.51,66.82 358.52,66.20 359.52,65.59 360.53,64.97 361.53,64.36 362.54,63.76 363.54,63.15 364.55,62.55 365.56,61.94 366.56,61.34 367.57,60.75 368.57,60.15 369.58,59.56 370.58,58.96 371.59,58.37 372.59,57.78 373.60,57.20 374.61,56.61 375.61,56.03 376.62,55.45 377.62,54.87 378.63,54.29 379.63,53.71 380.64,53.13 381.64,52.56 382.65,51.99 383.66,51.41 384.66,50.84 385.67,50.28 386.67,49.71 387.68,49.14 388.68,48.58 389.69,48.01 390.69,47.45 391.70,46.89 392.71,46.33 393.71,45.77 394.72,45.22 395.72,44.66 396.73,44.11 397.73,43.55 398.74,43.00 399.74,42.45 400.75,41.90 401.76,41.35 402.76,40.79 403.77,40.24 404.77,39.68 405.78,39.13 406.78,38.58 407.79,38.03 408.79,37.48 409.80,36.94 410.81,36.39 411.81,35.85 412.82,35.32 413.82,34.78 414.83,34.25 415.83,33.72 416.84,33.19 417.84,32.67 418.85,32.15 419.86,31.63 420.86,31.12 421.87,30.61 422.87,30.10 423.88,29.60 424.88,29.11 425.89,28.62 426.89,28.14 427.90,27.66 428.91,27.18 429.91,26.72 430.92,26.26 431.92,25.81 432.93,25.36 433.93,24.92 434.94,24.50 435.94,24.08 436.95,23.67 437.96,23.27 438.96,22.88 439.97,22.50 440.97,22.13 441.98,21.78 442.98,21.44 443.99,21.11 444.99,20.80 446.00,20.50" fill="none" stroke="#ff4d00" stroke-width="1.65" stroke-dasharray="0.2 2.4 0.2 2.4 0.2 3.8" stroke-linecap="round"/>
<g stroke="#000" fill="none" stroke-width="1">
<line x1="83.5" y1="20.5" x2="446.5" y2="20.5"/>
<line x1="83.5" y1="287" x2="446.5" y2="287" stroke-width="1.05"/>
<line x1="84" y1="20" x2="84" y2="287.5"/>
<line x1="446" y1="20" x2="446" y2="287.5"/>
<line x1="120.20" y1="21" x2="120.20" y2="24.6" stroke-width="0.9"/>
<line x1="120.20" y1="286.5" x2="120.20" y2="282.6" stroke-width="0.9"/>
<line x1="156.40" y1="21" x2="156.40" y2="24.6" stroke-width="0.9"/>
<line x1="156.40" y1="286.5" x2="156.40" y2="282.6" stroke-width="0.9"/>
<line x1="192.60" y1="21" x2="192.60" y2="24.6" stroke-width="0.9"/>
<line x1="192.60" y1="286.5" x2="192.60" y2="282.6" stroke-width="0.9"/>
<line x1="228.80" y1="21" x2="228.80" y2="24.6" stroke-width="0.9"/>
<line x1="228.80" y1="286.5" x2="228.80" y2="282.6" stroke-width="0.9"/>
<line x1="265.00" y1="21" x2="265.00" y2="24.6" stroke-width="0.9"/>
<line x1="265.00" y1="286.5" x2="265.00" y2="282.6" stroke-width="0.9"/>
<line x1="301.20" y1="21" x2="301.20" y2="24.6" stroke-width="0.9"/>
<line x1="301.20" y1="286.5" x2="301.20" y2="282.6" stroke-width="0.9"/>
<line x1="337.40" y1="21" x2="337.40" y2="24.6" stroke-width="0.9"/>
<line x1="337.40" y1="286.5" x2="337.40" y2="282.6" stroke-width="0.9"/>
<line x1="373.60" y1="21" x2="373.60" y2="24.6" stroke-width="0.9"/>
<line x1="373.60" y1="286.5" x2="373.60" y2="282.6" stroke-width="0.9"/>
<line x1="409.80" y1="21" x2="409.80" y2="24.6" stroke-width="0.9"/>
<line x1="409.80" y1="286.5" x2="409.80" y2="282.6" stroke-width="0.9"/>
<line x1="84.5" y1="64.5" x2="88.2" y2="64.5" stroke-width="0.9"/>
<line x1="445.5" y1="64.5" x2="441.8" y2="64.5" stroke-width="0.9"/>
<line x1="84.5" y1="109.5" x2="88.2" y2="109.5" stroke-width="0.9"/>
<line x1="445.5" y1="109.5" x2="441.8" y2="109.5" stroke-width="0.9"/>
<line x1="84.5" y1="153.5" x2="88.2" y2="153.5" stroke-width="0.9"/>
<line x1="445.5" y1="153.5" x2="441.8" y2="153.5" stroke-width="0.9"/>
<line x1="84.5" y1="198.0" x2="88.2" y2="198.0" stroke-width="0.9"/>
<line x1="445.5" y1="198.0" x2="441.8" y2="198.0" stroke-width="0.9"/>
<line x1="84.5" y1="242.5" x2="88.2" y2="242.5" stroke-width="0.9"/>
<line x1="445.5" y1="242.5" x2="441.8" y2="242.5" stroke-width="0.9"/>
</g>
<text transform="translate(85.70,307.9) scale(0.95,1)" font-size="14.0" text-anchor="middle">0</text>
<text transform="translate(121.90,307.9) scale(0.95,1)" font-size="14.0" text-anchor="middle">1</text>
<text transform="translate(158.10,307.9) scale(0.95,1)" font-size="14.0" text-anchor="middle">2</text>
<text transform="translate(194.30,307.9) scale(0.95,1)" font-size="14.0" text-anchor="middle">3</text>
<text transform="translate(230.50,307.9) scale(0.95,1)" font-size="14.0" text-anchor="middle">4</text>
<text transform="translate(266.70,307.9) scale(0.95,1)" font-size="14.0" text-anchor="middle">5</text>
<text transform="translate(302.90,307.9) scale(0.95,1)" font-size="14.0" text-anchor="middle">6</text>
<text transform="translate(339.10,307.9) scale(0.95,1)" font-size="14.0" text-anchor="middle">7</text>
<text transform="translate(375.30,307.9) scale(0.95,1)" font-size="14.0" text-anchor="middle">8</text>
<text transform="translate(411.50,307.9) scale(0.95,1)" font-size="14.0" text-anchor="middle">9</text>
<text transform="translate(447.70,307.9) scale(0.95,1)" font-size="14.0" text-anchor="middle">10</text>
<text transform="translate(74,25.30) scale(0.95,1)" font-size="14.0" text-anchor="end">1</text>
<text transform="translate(74,69.50) scale(0.95,1)" font-size="14.0" text-anchor="end">0.9</text>
<text transform="translate(74,114.10) scale(0.95,1)" font-size="14.0" text-anchor="end">0.8</text>
<text transform="translate(74,158.40) scale(0.95,1)" font-size="14.0" text-anchor="end">0.7</text>
<text transform="translate(74,202.80) scale(0.95,1)" font-size="14.0" text-anchor="end">0.6</text>
<text transform="translate(74,247.20) scale(0.95,1)" font-size="14.0" text-anchor="end">0.5</text>
<text transform="translate(74,291.60) scale(0.95,1)" font-size="14.0" text-anchor="end">0.4</text>
<text x="265.2" y="333.6" font-size="16.3" text-anchor="middle">redshift</text>
<text transform="translate(23.3,153.5) rotate(-90)" font-size="16.5" text-anchor="middle">bias factor</text>
<text x="123.55" y="71.35" font-size="15.0" text-anchor="middle" stroke="#000" stroke-width="0.65" stroke-linejoin="round">I</text>
<text x="122.10" y="100.15" font-size="15.0" text-anchor="middle" stroke="#000" stroke-width="0.65" stroke-linejoin="round">II</text>
<text x="124.40" y="127.25" font-size="15.0" text-anchor="middle" stroke="#000" stroke-width="0.65" stroke-linejoin="round">III</text>
<text x="125.45" y="158.05" font-size="15.0" text-anchor="middle" stroke="#000" stroke-width="0.65" stroke-linejoin="round">IV</text>
<text x="124.60" y="191.25" font-size="15.0" text-anchor="middle" stroke="#000" stroke-width="0.65" stroke-linejoin="round">V</text>
<text x="125.35" y="227.75" font-size="15.0" text-anchor="middle" stroke="#000" stroke-width="0.65" stroke-linejoin="round">VI</text>
<text x="125.65" y="272.25" font-size="15.0" text-anchor="middle" stroke="#000" stroke-width="0.65" stroke-linejoin="round">VII</text>
</svg></body></html>
